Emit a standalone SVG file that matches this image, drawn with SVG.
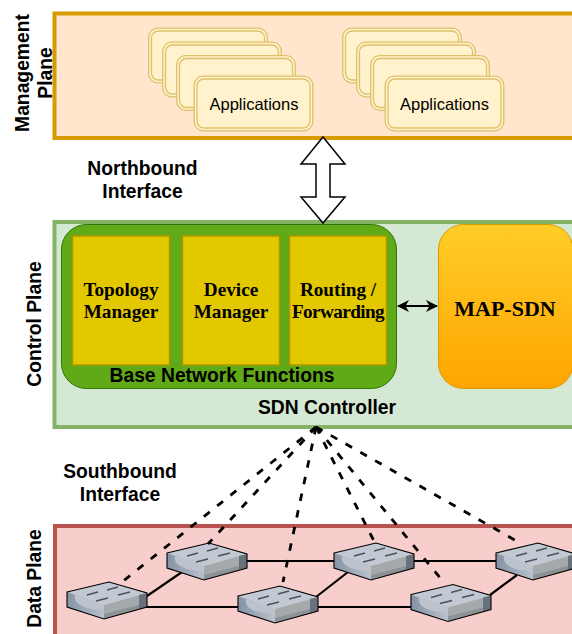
<svg xmlns="http://www.w3.org/2000/svg" width="572" height="634" viewBox="0 0 572 634">
<style>
text{font-family:"Liberation Sans",Arial,sans-serif;fill:#000;text-anchor:middle}
.b{font-weight:bold;font-size:19.3px}
.s{font-family:"Liberation Serif","Times New Roman",serif;font-weight:bold;font-size:19.200px}
.ap{font-size:16.500px}
.app{fill:#fff2cc;stroke:#dfc06a;stroke-width:1.3}
.fn{fill:#e3c800;stroke:#b09500;stroke-width:1.5}
.dash{fill:none;stroke:#000;stroke-width:2.800;stroke-dasharray:7.500 9.500}
.link{fill:none;stroke:#000;stroke-width:2.200}
.ar{fill:none;stroke:#4a525b;stroke-width:1.500}
</style>
<defs>
<linearGradient id="mapg" x1="0" y1="0" x2="0" y2="1"><stop offset="0" stop-color="#ffcd28"/><stop offset="1" stop-color="#ffa500"/></linearGradient>
<linearGradient id="lf" x1="0" y1="0" x2="1" y2="0"><stop offset="0" stop-color="#8593a6"/><stop offset="1" stop-color="#b9c1cc"/></linearGradient>
<g id="app"><rect class="app" x="0.700" y="0.700" width="118.600" height="54.600" rx="9"/><rect class="app" x="3.500" y="3.500" width="113" height="49" rx="7"/></g>
<g id="sw">
<polygon points="0,10 42,0 80,11 37,23" fill="#c3c9d3"/>
<path d="M0,10 L37,23 V37 L0,25 Z" fill="url(#lf)"/>
<path d="M8,13 C6,22 18,28 37,28 V23 Z" fill="#bcc3cd"/>
<path d="M37,23 L80,11 V25 L37,37 Z" fill="#a4a9ab"/>
<path d="M72,13 L80,11 V25 L72,27 Z" fill="#68727c"/>
<path d="M37,32 L72,23 V27 L37,37 Z" fill="#8d9296"/>
<path d="M0,10 L42,0 L80,11 V25 L37,37 L0,25 Z" fill="none" stroke="#000" stroke-width="1.100"/>
<path class="ar" d="M20,13 L31,10 M40,8 L51,5 M29,19 L41,16 M51,13 L63,10"/>
</g>
</defs>

<g id="management-plane"><rect x="54.500" y="13.500" width="530" height="124.500" fill="#ffe6cc" stroke="#d79b00" stroke-width="4"/>
<text class="b" transform="translate(29,73) rotate(-90)"><tspan x="0" y="0">Management</tspan><tspan x="0" y="23">Plane</tspan></text></g>

<g id="applications-1"><use href="#app" x="148" y="27.500"/><use href="#app" x="162" y="41.500"/><use href="#app" x="176" y="55"/><use href="#app" x="193.500" y="75.500"/><text class="ap" x="254" y="110">Applications</text></g>
<g id="applications-2"><use href="#app" x="342" y="27.500"/><use href="#app" x="356" y="41.500"/><use href="#app" x="370" y="55"/><use href="#app" x="384.500" y="75.500"/><text class="ap" x="444.500" y="110">Applications</text></g>

<g id="control-plane"><rect x="54.500" y="222" width="530" height="205" fill="#d5e8d4" stroke="#82b366" stroke-width="4"/>
<text class="b" transform="translate(41,324) rotate(-90)">Control Plane</text>
<text class="b" x="327" y="414">SDN Controller</text></g>

<g id="data-plane"><rect x="55" y="526" width="530" height="130" fill="#f8cecc" stroke="#b85450" stroke-width="4"/>
<text class="b" transform="translate(41,578.500) rotate(-90)">Data Plane</text></g>

<g id="northbound-interface"><text class="b"><tspan x="142.500" y="175">Northbound</tspan><tspan x="142.500" y="198">Interface</tspan></text></g>
<g id="southbound-interface"><text class="b"><tspan x="120" y="478">Southbound</tspan><tspan x="120" y="501">Interface</tspan></text></g>

<g id="base-network-functions"><rect x="61.500" y="224.500" width="335" height="164" rx="25" fill="#60a917" stroke="#2d7600"/>
<text class="b" x="222" y="381.500">Base Network Functions</text></g>
<g id="topology-manager"><rect class="fn" x="72.500" y="236" width="97" height="129"/><text class="s"><tspan x="121" y="296">Topology</tspan><tspan x="121" y="318">Manager</tspan></text></g>
<g id="device-manager"><rect class="fn" x="182.500" y="236" width="97" height="129"/><text class="s"><tspan x="231" y="296">Device</tspan><tspan x="231" y="318">Manager</tspan></text></g>
<g id="routing-forwarding"><rect class="fn" x="289.500" y="236" width="97" height="129"/><text class="s"><tspan x="338" y="296">Routing /</tspan><tspan x="338" y="318" letter-spacing="-0.600">Forwarding</tspan></text></g>
<g id="map-sdn"><rect x="438.500" y="224.500" width="134.500" height="164" rx="25" fill="url(#mapg)" stroke="#d79b00"/><text class="s" x="505" y="316" style="font-size:22px">MAP-SDN</text></g>

<g id="connectors">
<path d="M323,137 L345,164 H330 V197 H345 L323,223 L301,197 H316 V164 H301 Z" fill="#fff" stroke="#000" stroke-width="1.500"/>
<path d="M398,306 H437" class="link"/>
<path d="M397,306 L409,300 L405.500,306 L409,312 Z M438,306 L426,300 L429.500,306 L426,312 Z" fill="#000"/>
<path class="link" d="M147,596 L182,572 M146,607 H238 M246,561 H334 M316,597 L348,572 M317,607 H411 M414,561 H496 M490,595 L517,575"/>
</g>

<g id="switch-1"><use href="#sw" x="67" y="582"/></g>
<g id="switch-2"><use href="#sw" x="167" y="543"/></g>
<g id="switch-3"><use href="#sw" x="238" y="586"/></g>
<g id="switch-4"><use href="#sw" x="334" y="543"/></g>
<g id="switch-5"><use href="#sw" x="411" y="584.500"/></g>
<g id="switch-6"><use href="#sw" x="496" y="543"/></g>

<g id="dashed-connectors">
<path class="dash" d="M316,427 L117,586"/>
<path class="dash" d="M316,427 L208,544"/>
<path class="dash" d="M316,427 L283,582"/>
<path class="dash" d="M316,427 L375,543"/>
<path class="dash" d="M316,427 L441,579"/>
<path class="dash" d="M316,427 L520,543"/>
</g>
</svg>
